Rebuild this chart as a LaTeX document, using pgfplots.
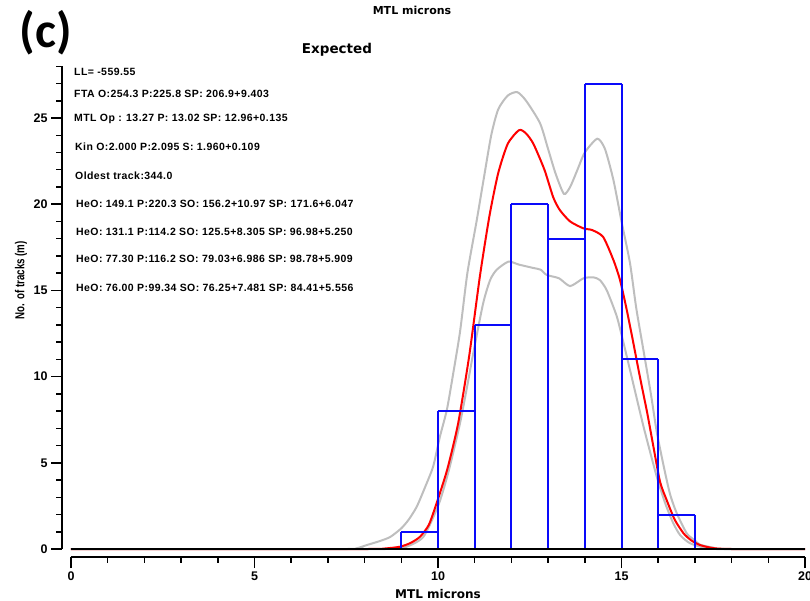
\documentclass[border=0pt]{standalone}
\usepackage{pgfplots}
\pgfplotsset{compat=1.18}
\usepackage{fontspec}
\setmainfont{Liberation Sans}
\newfontfamily\dejavu{DejaVu Sans}
\newfontfamily\carlito{Carlito}
\newfontfamily\infofont[LetterSpace=4]{Liberation Sans}
\definecolor{envgray}{RGB}{190,190,190}
\definecolor{histblue}{RGB}{10,10,250}
\definecolor{fitred}{RGB}{255,0,0}

\begin{document}
\begin{tikzpicture}
\begin{axis}[
  scale only axis,
  width=734pt, height=482.7pt,
  xmin=0, xmax=20, ymin=0, ymax=28,
  clip mode=individual,
  axis x line*=bottom, axis y line*=left,
  axis x line shift=8pt, axis y line shift=9pt,
  xtick={0,5,...,20}, ytick={0,5,...,25},
  minor xtick={0,1,...,20}, minor ytick={0,1,...,28},
  tick align=outside,
  major tick length=11pt, minor tick length=5.5pt,
  every tick/.style={black, line width=1.5pt},
  axis line style={black, line width=2pt},
  /pgf/number format/assume math mode=true,
  ticklabel style={font=\bfseries\fontsize{12.5}{13}\selectfont},
  xlabel={MTL microns},
  ylabel={\scalebox{0.75}[1]{No. of tracks (m)}},
  xlabel style={font=\dejavu\bfseries\fontsize{12}{13}\selectfont, at={(axis description cs:0.5,-0.0932)}, anchor=center},
  ylabel style={font=\bfseries\fontsize{13}{14}\selectfont, at={(axis description cs:-0.068,0.557)}, anchor=center},
]
% upper envelope
\addplot[envgray, line width=2pt, smooth, tension=0.4, clip=false] coordinates {
  (0,0) (7.5,0) (7.8,0.05) (8.06,0.23) (8.4,0.45) (8.7,0.7) (9.0,1.2) (9.2,1.7)
  (9.42,2.45) (9.65,3.6) (9.87,4.8) (10.05,6.5) (10.24,8.06) (10.4,10.0)
  (10.6,12.6) (10.8,16.0) (11.05,19.0) (11.24,21.4) (11.45,24.0) (11.64,25.5)
  (11.9,26.3) (12.16,26.5) (12.4,26.0) (12.78,24.7) (13.0,23.2) (13.2,21.8)
  (13.43,20.6) (13.6,21.0) (13.8,22.0) (14.0,23.0) (14.34,23.8) (14.55,23.2)
  (14.78,21.4) (15.0,19.0) (15.23,16.6) (15.4,14.0) (15.6,11.5) (15.8,9.0)
  (15.96,6.8) (16.15,4.8) (16.32,3.2) (16.5,2.1) (16.78,0.9) (17.0,0.5)
  (17.14,0.25) (17.5,0.08) (17.8,0) (20,0)};
% lower envelope
\addplot[envgray, line width=2pt, smooth, tension=0.4, clip=false] coordinates {
  (0,0) (8.3,0) (8.7,0.01) (9.1,0.1) (9.6,0.7) (10.02,2.6) (10.3,4.6)
  (10.6,7.3) (10.8,9.5) (10.96,11.35) (11.23,14.25) (11.42,15.6) (11.6,16.2)
  (11.92,16.67) (12.2,16.5) (12.6,16.3) (12.8,16.2) (12.96,15.9) (13.3,15.7)
  (13.6,15.25) (13.96,15.7) (14.23,15.76) (14.41,15.6) (14.6,15.0) (14.87,13.5)
  (15.05,12.0) (15.23,10.4) (15.6,7.1) (15.96,4.2) (16.2,2.6) (16.41,1.5)
  (16.6,0.8) (16.87,0.33) (17.3,0.05) (17.6,0) (20,0)};
% expected (red)
\addplot[fitred, line width=2pt, smooth, tension=0.4, clip=false] coordinates {
  (0,0) (8.0,0) (8.5,0.02) (8.96,0.13) (9.25,0.35) (9.51,0.71) (9.75,1.4)
  (9.96,2.65) (10.25,4.6) (10.55,7.3) (10.85,11.2) (11.14,15.8) (11.4,19.3)
  (11.64,21.8) (11.9,23.5) (12.21,24.3) (12.4,24.1) (12.6,23.5) (12.9,22.0)
  (13.14,20.4) (13.32,19.66) (13.6,19.0) (13.96,18.6) (14.2,18.5) (14.5,18.1)
  (14.78,16.76) (14.96,15.6) (15.14,13.9) (15.3,12.2) (15.5,10.0) (15.7,7.9)
  (15.87,5.93) (16.05,3.9) (16.23,2.84) (16.45,1.7) (16.69,0.91) (16.9,0.5)
  (17.14,0.23) (17.5,0.05) (18,0) (20,0)};
% histogram: verticals as combs, tops as steps
\addplot[ycomb, draw=histblue, line width=2pt, clip=false] coordinates {
  (9,1) (10,8) (11,13) (12,20) (13,20) (14,27) (15,27) (16,11) (17,2)};
\addplot[const plot, jump mark left, draw=histblue, line width=2pt, clip=false] coordinates {
  (9,1) (10,8) (11,13) (12,20) (13,18) (14,27) (15,11) (16,2) (17,2)};
\addplot[histblue, line width=2pt, clip=false] coordinates {(9,1) (10,1)};
\addplot[histblue, line width=2pt, clip=false] coordinates {(16,2) (17,2)};
% baseline
\addplot[black, line width=2.2pt, clip=false] coordinates {(0,0) (20,0)};
\end{axis}
% texts
\node[font=\dejavu\bfseries\fontsize{11}{12}\selectfont] at (341pt,539pt) {MTL microns};
\node[font=\dejavu\bfseries\fontsize{13.5}{14}\selectfont] at (266pt,499pt) {Expected};
\node[font=\carlito\bfseries\fontsize{50}{52}\selectfont] at (-25pt,516pt) {(c)};
\begin{scope}[every node/.style={anchor=base west, inner sep=0pt, font=\infofont\bfseries\fontsize{10.5}{11}\selectfont}]
\node at (3pt,473.8pt) {LL= -559.55};
\node at (3pt,451.2pt) {FTA O:254.3 P:225.8 SP: 206.9+9.403};
\node at (3pt,427.2pt) {MTL Op : 13.27 P: 13.02 SP: 12.96+0.135};
\node at (4pt,398.8pt) {Kin O:2.000 P:2.095 S: 1.960+0.109};
\node at (4pt,369.5pt) {Oldest track:344.0};
\node at (5pt,341.2pt) {HeO: 149.1 P:220.3 SO: 156.2+10.97 SP: 171.6+6.047};
\node at (5pt,313.2pt) {HeO: 131.1 P:114.2 SO: 125.5+8.305 SP: 96.98+5.250};
\node at (5pt,286.2pt) {HeO: 77.30 P:116.2 SO: 79.03+6.986 SP: 98.78+5.909};
\node at (5pt,257.8pt) {HeO: 76.00 P:99.34 SO: 76.25+7.481 SP: 84.41+5.556};
\end{scope}
\pgfresetboundingbox
\path[use as bounding box] (-71pt,-51pt) rectangle (739pt,549pt);
\end{tikzpicture}
\end{document}
